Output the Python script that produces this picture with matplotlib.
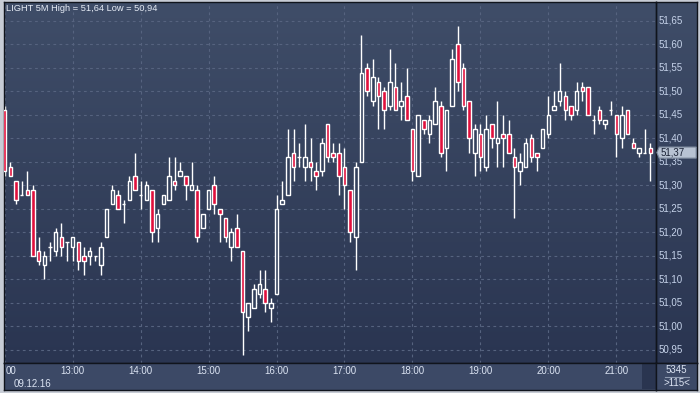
import numpy as np
import matplotlib
matplotlib.use("Agg")
import matplotlib.pyplot as plt
from matplotlib.colors import LinearSegmentedColormap
from matplotlib.patches import Polygon, Rectangle

plt.rcParams['font.family'] = ['Liberation Sans', 'DejaVu Sans']

# 5 minute bars, 09.12.16, 12:00 .. 21:30
opens = [51.46, 51.34, 51.31, 51.28, 51.29, 51.29, 51.16, 51.13, 51.17, 51.16,
         51.19, 51.18, 51.17, 51.18, 51.15, 51.15, 51.15, 51.13, 51.19, 51.26,
         51.28, 51.26, 51.27, 51.32, 51.28, 51.27, 51.29, 51.21, 51.26, 51.27,
         51.31, 51.32, 51.32, 51.29, 51.29, 51.21, 51.25, 51.30, 51.25, 51.23,
         51.17, 51.21, 51.16, 51.02, 51.04, 51.07, 51.08, 51.04, 51.07, 51.26,
         51.28, 51.37, 51.36, 51.34, 51.35, 51.33, 51.33, 51.43, 51.37, 51.37,
         51.34, 51.29, 51.19, 51.35, 51.55, 51.48, 51.52, 51.50, 51.47, 51.51,
         51.47, 51.49, 51.42, 51.32, 51.44, 51.41, 51.43, 51.47, 51.38, 51.47,
         51.60, 51.55, 51.48, 51.37, 51.41, 51.34, 51.43, 51.39, 51.41, 51.41,
         51.36, 51.33, 51.34, 51.40, 51.37, 51.38, 51.41, 51.46, 51.48, 51.49,
         51.47, 51.46, 51.51, 51.51, 51.44, 51.46, 51.43, 51.46, 51.45, 51.40,
         51.46, 51.39, 51.37, 51.37, 51.38]
highs = [51.47, 51.35, 51.31, 51.31, 51.33, 51.30, 51.19, 51.16, 51.18, 51.21,
         51.22, 51.18, 51.19, 51.18, 51.17, 51.17, 51.15, 51.18, 51.25, 51.30,
         51.29, 51.27, 51.32, 51.37, 51.31, 51.31, 51.29, 51.25, 51.28, 51.36,
         51.36, 51.35, 51.32, 51.35, 51.30, 51.24, 51.29, 51.32, 51.25, 51.23,
         51.21, 51.24, 51.16, 51.05, 51.09, 51.12, 51.12, 51.06, 51.28, 51.31,
         51.42, 51.42, 51.39, 51.43, 51.40, 51.35, 51.40, 51.43, 51.39, 51.39,
         51.38, 51.29, 51.35, 51.62, 51.56, 51.57, 51.53, 51.51, 51.59, 51.56,
         51.52, 51.55, 51.42, 51.45, 51.44, 51.45, 51.51, 51.48, 51.46, 51.59,
         51.64, 51.56, 51.48, 51.43, 51.43, 51.45, 51.43, 51.48, 51.45, 51.44,
         51.38, 51.37, 51.40, 51.41, 51.37, 51.42, 51.49, 51.50, 51.56, 51.50,
         51.47, 51.52, 51.52, 51.51, 51.45, 51.47, 51.44, 51.48, 51.45, 51.47,
         51.46, 51.40, 51.38, 51.42, 51.39]
lows = [51.32, 51.32, 51.26, 51.28, 51.28, 51.15, 51.13, 51.10, 51.14, 51.15,
        51.15, 51.14, 51.14, 51.12, 51.11, 51.13, 51.14, 51.11, 51.19, 51.26,
        51.25, 51.22, 51.27, 51.29, 51.25, 51.27, 51.18, 51.18, 51.26, 51.27,
        51.29, 51.32, 51.27, 51.29, 51.18, 51.21, 51.25, 51.24, 51.18, 51.18,
        51.14, 51.17, 50.94, 50.99, 51.04, 51.06, 51.03, 51.01, 51.07, 51.26,
        51.28, 51.31, 51.34, 51.31, 51.31, 51.29, 51.32, 51.35, 51.35, 51.28,
        51.25, 51.18, 51.12, 51.35, 51.49, 51.47, 51.42, 51.42, 51.46, 51.46,
        51.44, 51.44, 51.31, 51.32, 51.41, 51.39, 51.43, 51.36, 51.33, 51.47,
        51.50, 51.46, 51.37, 51.32, 51.33, 51.33, 51.38, 51.34, 51.34, 51.37,
        51.23, 51.30, 51.34, 51.35, 51.33, 51.38, 51.40, 51.46, 51.47, 51.44,
        51.44, 51.45, 51.48, 51.45, 51.41, 51.43, 51.42, 51.45, 51.36, 51.38,
        51.41, 51.38, 51.36, 51.37, 51.31]
closes = [51.33, 51.32, 51.27, 51.28, 51.28, 51.15, 51.14, 51.15, 51.17, 51.20,
          51.17, 51.18, 51.19, 51.14, 51.14, 51.16, 51.15, 51.17, 51.25, 51.29,
          51.25, 51.26, 51.31, 51.29, 51.28, 51.30, 51.20, 51.24, 51.28, 51.32,
          51.30, 51.33, 51.30, 51.30, 51.19, 51.24, 51.29, 51.26, 51.24, 51.19,
          51.20, 51.17, 51.03, 51.05, 51.08, 51.09, 51.05, 51.05, 51.25, 51.27,
          51.36, 51.34, 51.36, 51.36, 51.34, 51.32, 51.39, 51.36, 51.36, 51.32,
          51.30, 51.20, 51.34, 51.54, 51.50, 51.53, 51.49, 51.46, 51.52, 51.46,
          51.48, 51.44, 51.33, 51.45, 51.42, 51.44, 51.48, 51.37, 51.46, 51.57,
          51.52, 51.47, 51.40, 51.42, 51.36, 51.42, 51.40, 51.40, 51.40, 51.37,
          51.34, 51.35, 51.39, 51.36, 51.36, 51.42, 51.45, 51.47, 51.50, 51.46,
          51.45, 51.50, 51.50, 51.45, 51.44, 51.44, 51.44, 51.46, 51.41, 51.45,
          51.41, 51.38, 51.38, 51.37, 51.37]

# first hour label is cut by the left edge in the original: only "00" shows
hour_labels = ["00", "13:00", "14:00", "15:00", "16:00",
               "17:00", "18:00", "19:00", "20:00", "21:00"]
bars_per_hour = 12
price_ticks = [50.95, 51.00, 51.05, 51.10, 51.15, 51.20, 51.25, 51.30,
               51.35, 51.40, 51.45, 51.50, 51.55, 51.60, 51.65]
title = "LIGHT 5M High = 51,64 Low = 50,94"
date_label = "09.12.16"
last_price = closes[-1]

W, H = 700, 393


def px(x0, y0, x1, y1):
    return [x0 / W, 1 - y1 / H, (x1 - x0) / W, (y1 - y0) / H]


fig = plt.figure(figsize=(7, 3.93), dpi=100)
fig.patch.set_facecolor('#c7ccd5')

# gradient background behind the plot and price scale
bg = fig.add_axes(px(4, 2, 697, 363), zorder=0)
cmap = LinearSegmentedColormap.from_list('bg', ['#2a3551', '#3f4d68'])
bg.imshow(np.linspace(0, 1, 256).reshape(-1, 1)[::-1], aspect='auto', cmap=cmap,
          extent=[0, 1, 0, 1])
bg.axis('off')

ax = fig.add_axes(px(4, 2, 656, 363), zorder=1)
ax.set_facecolor('none')
rax = fig.add_axes(px(656, 2, 697, 363), zorder=1, sharey=ax)
rax.set_facecolor('none')
bax = fig.add_axes(px(4, 363, 656, 390), zorder=1, sharex=ax)
bax.set_facecolor('#3c4966')
cax = fig.add_axes(px(656, 363, 697, 390), zorder=1)
cax.set_facecolor('#3c4966')

o = np.array(opens)
h = np.array(highs)
l = np.array(lows)
c = np.array(closes)
x = np.arange(len(o))
top = np.maximum(o, c)
bot = np.minimum(o, c)
up = c >= o

grid_col = '#56637f'
for v in price_ticks:
    ax.axhline(v, color=grid_col, lw=0.8, ls=(0, (2.5, 3)), zorder=1)
hour_pos = np.arange(len(hour_labels)) * bars_per_hour
for xp in hour_pos:
    ax.axvline(xp, color=grid_col, lw=0.8, ls=(0, (2.5, 3)), zorder=1)
    bax.axvline(xp, ymin=0.85, color=grid_col, lw=0.8, ls=(0, (2, 2)))

ax.vlines(x, top, h, color='white', lw=1.0, zorder=2)
ax.vlines(x, l, bot, color='white', lw=1.0, zorder=2)
fills = np.where(up, '#33405c', '#e0103c')
ax.bar(x, top - bot, bottom=bot, width=0.62, color=fills, edgecolor='white',
       linewidth=1.0, zorder=3)

ax.set_xlim(-0.12, 115.0)
ax.set_ylim(50.9223, 51.6904)
for a in (ax, rax, bax, cax):
    a.set_xticks([])
    a.set_yticks([])
    for s in a.spines.values():
        s.set_color('#10141c')
        s.set_linewidth(1.0)

ax.text(0.003, 0.983, title, transform=ax.transAxes, color='#e6ecf6',
        fontsize=6.7, ha='left', va='center')

# price scale
rax.set_xlim(0, 1)
lab_col = '#c6d3ea'
for v in price_ticks:
    rax.text(0.07, v, f"{v:.2f}".replace('.', ','), color=lab_col,
             fontsize=7, ha='left', va='center')
hh = 0.0118
tag = Polygon([(0.02, last_price), (0.08, last_price + hh), (0.98, last_price + hh),
               (0.98, last_price - hh), (0.08, last_price - hh)], closed=True,
              facecolor='#b8c3d3', edgecolor='#7d899c', lw=0.8, zorder=5)
rax.add_patch(tag)
rax.text(0.1, last_price, f"{last_price:.2f}".replace('.', ','), color='#1a2235',
         fontsize=7, ha='left', va='center', zorder=6)

# time scale
bax.set_ylim(0, 1)
for xp, lab in zip(hour_pos, hour_labels):
    if xp == 0:
        bax.text(1.5 / 652, 0.70, lab, transform=bax.transAxes, color='#dbe3f2',
                 fontsize=7, ha='left', va='center')
    else:
        bax.text(xp, 0.70, lab, color='#dbe3f2', fontsize=7, ha='center',
                 va='center')
bax.text(10 / 652, 0.22, date_label, transform=bax.transAxes, color='#dbe3f2',
         fontsize=7, ha='left', va='center')
bax.add_patch(Rectangle((638 / 652, 0.05), 14 / 652, 0.95, transform=bax.transAxes,
                        facecolor='#2a3550', edgecolor='none'))

cax.set_xlim(0, 1)
cax.set_ylim(0, 1)
cax.text(0.5, 0.74, "5345", color='#dbe3f2', fontsize=7, ha='center', va='center')
cax.plot([0.22, 0.8], [0.5, 0.5], color='#8e9ab0', lw=0.8)
cax.text(0.5, 0.26, ">115<", color='#dbe3f2', fontsize=7, ha='center', va='center')

fig.savefig('out.png', dpi=100, facecolor=fig.get_facecolor())
